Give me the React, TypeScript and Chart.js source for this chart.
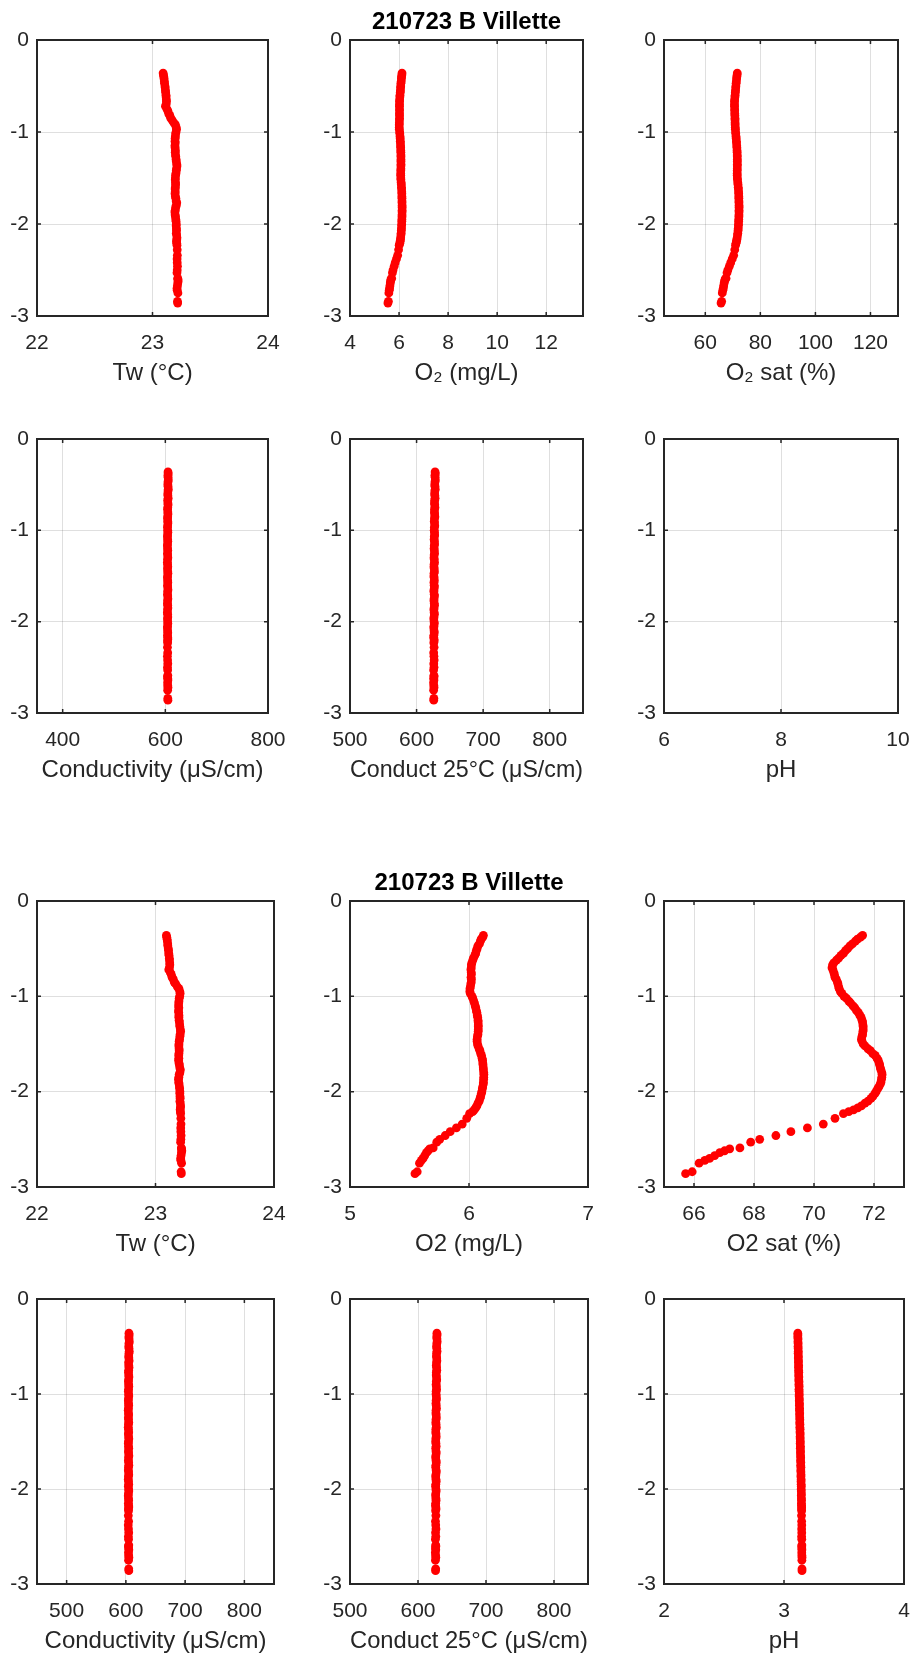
import { useEffect, useRef } from "react";
import { Chart, registerables } from "chart.js";

Chart.register(...registerables);

// ---------------- data (one profile, shared by all panels) ----------------
const depth = [
  -0.36, -0.38, -0.4, -0.42, -0.45, -0.47, -0.5, -0.52, -0.55, -0.57,
  -0.6, -0.62, -0.65, -0.67, -0.7, -0.72, -0.75, -0.77, -0.8, -0.82,
  -0.85, -0.87, -0.9, -0.92, -0.95, -0.97, -1.0, -1.02, -1.05, -1.07,
  -1.1, -1.12, -1.15, -1.17, -1.2, -1.22, -1.25, -1.27, -1.3, -1.32,
  -1.35, -1.37, -1.4, -1.42, -1.45, -1.47, -1.5, -1.52, -1.55, -1.57,
  -1.6, -1.62, -1.65, -1.67, -1.7, -1.72, -1.75, -1.77, -1.8, -1.82,
  -1.85, -1.87, -1.9, -1.92, -1.95, -1.97, -2.0, -2.02, -2.05, -2.07,
  -2.1, -2.12, -2.15, -2.17, -2.19, -2.21,
  -2.23, -2.28, -2.34, -2.38, -2.42, -2.46, -2.5, -2.53, -2.59, -2.6,
  -2.62, -2.64, -2.67, -2.7, -2.72, -2.75, -2.84, -2.86,
];

const tw = [
  23.092, 23.095, 23.098, 23.1, 23.103, 23.104, 23.108, 23.11, 23.112, 23.114,
  23.117, 23.118, 23.12, 23.121, 23.118, 23.112, 23.125, 23.133, 23.14, 23.15,
  23.158, 23.17, 23.185, 23.198, 23.205, 23.208, 23.204, 23.2, 23.198, 23.196,
  23.195, 23.197, 23.194, 23.196, 23.198, 23.197, 23.199, 23.202, 23.204, 23.206,
  23.21, 23.212, 23.208, 23.206, 23.203, 23.2, 23.198, 23.197, 23.199, 23.2,
  23.198, 23.196, 23.197, 23.195, 23.198, 23.202, 23.205, 23.21, 23.206, 23.2,
  23.197, 23.194, 23.196, 23.199, 23.202, 23.204, 23.206, 23.205, 23.207, 23.208,
  23.206, 23.209, 23.212, 23.21, 23.208, 23.21,
  23.212, 23.214, 23.215, 23.213, 23.214, 23.216, 23.214, 23.212, 23.218, 23.22,
  23.222, 23.219, 23.216, 23.212, 23.214, 23.22, 23.216, 23.218,
];

const o2 = [
  6.121, 6.115, 6.102, 6.096, 6.087, 6.075, 6.068, 6.062, 6.056, 6.049,
  6.037, 6.032, 6.024, 6.02, 6.019, 6.016, 6.019, 6.02, 6.017, 6.02,
  6.019, 6.015, 6.012, 6.008, 6.007, 6.011, 6.025, 6.032, 6.04, 6.046,
  6.052, 6.057, 6.062, 6.066, 6.07, 6.073, 6.076, 6.077, 6.078, 6.078,
  6.078, 6.077, 6.075, 6.071, 6.068, 6.068, 6.071, 6.076, 6.085, 6.092,
  6.098, 6.105, 6.11, 6.114, 6.116, 6.118, 6.12, 6.121, 6.124, 6.125,
  6.124, 6.123, 6.121, 6.12, 6.115, 6.112, 6.108, 6.104, 6.098, 6.093,
  6.085, 6.076, 6.066, 6.056, 6.044, 6.031,
  6.005, 5.981, 5.943, 5.894, 5.842, 5.8, 5.754, 5.729, 5.699, 5.67,
  5.656, 5.642, 5.628, 5.614, 5.6, 5.584, 5.565, 5.546,
];

const o2sat = [
  71.62, 71.55, 71.45, 71.38, 71.28, 71.2, 71.12, 71.05, 70.98, 70.9,
  70.82, 70.75, 70.66, 70.62, 70.6, 70.63, 70.66, 70.68, 70.7, 70.74,
  70.78, 70.8, 70.82, 70.84, 70.88, 70.93, 71.0, 71.08, 71.16, 71.22,
  71.3, 71.36, 71.42, 71.48, 71.53, 71.57, 71.6, 71.62, 71.63, 71.64,
  71.64, 71.63, 71.62, 71.6, 71.58, 71.6, 71.64, 71.7, 71.8, 71.88,
  71.96, 72.04, 72.1, 72.14, 72.17, 72.19, 72.21, 72.23, 72.26, 72.27,
  72.26, 72.25, 72.23, 72.21, 72.16, 72.12, 72.07, 72.03, 71.96, 71.9,
  71.8, 71.7, 71.58, 71.46, 71.32, 71.16,
  70.98, 70.7, 70.31, 69.78, 69.23, 68.73, 68.19, 67.89, 67.53, 67.19,
  67.02, 66.86, 66.69, 66.52, 66.36, 66.17, 65.94, 65.72,
];

const cond = [
  605.2, 605.6, 605.0, 605.4, 605.8, 605.1, 604.9, 605.3, 605.7, 605.2,
  604.8, 605.0, 605.5, 604.6, 604.9, 605.3, 604.7, 604.4, 604.8, 605.1,
  604.6, 604.3, 604.7, 605.0, 604.5, 604.2, 604.6, 604.9, 604.4, 604.1,
  604.5, 604.8, 604.3, 604.0, 604.4, 604.7, 604.2, 604.5, 604.9, 604.3,
  604.0, 604.4, 604.8, 604.2, 604.6, 605.0, 604.4, 604.1, 604.5, 604.8,
  604.3, 604.6, 605.1, 604.5, 604.2, 604.7, 605.0, 604.4, 604.1, 604.6,
  604.9, 604.3, 604.0, 604.5, 604.8, 604.2, 604.6, 604.9, 604.3, 604.0,
  604.4, 604.7, 604.2, 604.6, 604.9, 604.3,
  604.5, 604.1, 604.6, 604.0, 604.4, 604.8, 604.2, 604.5, 604.9, 604.3,
  604.6, 605.0, 604.4, 604.7, 605.1, 604.5, 604.8, 605.0,
];

const cond25 = [
  627.8, 628.1, 627.5, 627.9, 628.2, 627.6, 627.3, 627.7, 628.0, 627.4,
  627.1, 627.5, 627.8, 627.2, 626.9, 627.3, 627.6, 627.0, 626.8, 627.2,
  627.5, 626.9, 626.6, 627.0, 627.3, 626.7, 626.5, 626.9, 627.2, 626.6,
  626.4, 626.8, 627.1, 626.5, 626.3, 626.7, 627.0, 626.4, 626.2, 626.6,
  626.9, 626.3, 626.1, 626.5, 626.8, 626.2, 626.0, 626.4, 626.7, 626.1,
  626.4, 626.8, 626.2, 626.0, 626.5, 626.9, 626.3, 626.1, 626.6, 626.9,
  626.3, 626.0, 626.4, 626.8, 626.2, 625.9, 626.3, 626.7, 626.1, 625.9,
  626.3, 626.6, 626.0, 625.8, 626.2, 626.5,
  625.9, 626.3, 625.7, 626.1, 626.4, 625.8, 626.2, 625.6, 626.0, 626.3,
  625.7, 626.1, 625.5, 625.9, 626.2, 625.6, 626.0, 625.8,
];

const ph = [
  3.115, 3.116, 3.115, 3.117, 3.116, 3.118, 3.117, 3.118, 3.119, 3.118,
  3.12, 3.119, 3.121, 3.12, 3.122, 3.121, 3.122, 3.123, 3.122, 3.124,
  3.123, 3.125, 3.124, 3.126, 3.125, 3.126, 3.127, 3.126, 3.128, 3.127,
  3.129, 3.128, 3.13, 3.129, 3.131, 3.13, 3.131, 3.132, 3.131, 3.133,
  3.132, 3.134, 3.133, 3.135, 3.134, 3.135, 3.136, 3.135, 3.137, 3.136,
  3.138, 3.137, 3.138, 3.139, 3.138, 3.14, 3.139, 3.141, 3.14, 3.141,
  3.142, 3.141, 3.143, 3.142, 3.143, 3.144, 3.143, 3.144, 3.145, 3.144,
  3.145, 3.146, 3.145, 3.146, 3.147, 3.146,
  3.147, 3.146, 3.147, 3.148, 3.147, 3.148, 3.147, 3.148, 3.149, 3.148,
  3.148, 3.149, 3.148, 3.149, 3.15, 3.149, 3.15, 3.15,
];

// ---------------- ticks ----------------
const depthTicks = [0, -1, -2, -3];
const twTicks = [22, 23, 24];
const o2TicksTop = [4, 6, 8, 10, 12];
const o2satTicksTop = [60, 80, 100, 120];
const condTicksTop = [400, 600, 800];
const cond25Ticks = [500, 600, 700, 800];
const phTicksTop = [6, 8, 10];
const o2TicksBottom = [5, 6, 7];
const o2satTicksBottom = [66, 68, 70, 72];
const condTicksBottom = [500, 600, 700, 800];
const phTicksBottom = [2, 3, 4];

const TITLE = "210723 B Villette";

// ---------------- layout ----------------
const FONT = "'Liberation Sans', Arial, Helvetica, sans-serif";
const TEXT = "#262626";
const PAD_L = 60;
const PAD_T = 50;
const PAD_R = 40;
const PAD_B = 85;
const WY = 60;
const HX = 72;
const TICK_SIZE = 21;
const TICK_PAD_X = 15;
const LABEL_SIZE = 24;
const TITLE_SIZE = 24;
const TITLE_PAD_B = 3.5;
const TITLE_H = TITLE_SIZE * 1.2 + TITLE_PAD_B;

type Panel = {
  xs: number[];
  L: number; T: number; R: number; B: number;
  min: number; max: number; ticks: number[];
  label: string; title?: string;
};

const colsTop = [[37, 268], [350, 583], [664, 898]];
const colsBot = [[37, 274], [350, 588], [664, 904]];
const rows = [[40, 316], [439, 713], [901, 1187], [1299, 1584]];

function mk(xs: number[], r: number, c: number, min: number, max: number, ticks: number[], label: string, title?: string): Panel {
  const cols = r < 2 ? colsTop : colsBot;
  return { xs, L: cols[c][0], R: cols[c][1], T: rows[r][0], B: rows[r][1], min, max, ticks, label, title };
}

const panels: Panel[] = [
  mk(tw, 0, 0, 22, 24, twTicks, "Tw (°C)"),
  mk(o2, 0, 1, 4, 13.5, o2TicksTop, "O₂ (mg/L)", TITLE),
  mk(o2sat, 0, 2, 45, 130, o2satTicksTop, "O₂ sat (%)"),
  mk(cond, 1, 0, 350, 800, condTicksTop, "Conductivity (μS/cm)"),
  mk(cond25, 1, 1, 500, 850, cond25Ticks, "Conduct 25°C (μS/cm)"),
  mk(ph, 1, 2, 6, 10, phTicksTop, "pH"),
  mk(tw, 2, 0, 22, 24, twTicks, "Tw (°C)"),
  mk(o2, 2, 1, 5, 7, o2TicksBottom, "O2 (mg/L)", TITLE),
  mk(o2sat, 2, 2, 65, 73, o2satTicksBottom, "O2 sat (%)"),
  mk(cond, 3, 0, 450, 850, condTicksBottom, "Conductivity (μS/cm)"),
  mk(cond25, 3, 1, 500, 850, cond25Ticks, "Conduct 25°C (μS/cm)"),
  mk(ph, 3, 2, 2, 4, phTicksBottom, "pH"),
];

const boxPlugin = {
  id: "matlabBox",
  afterDatasetsDraw(chart: any) {
    const { ctx, chartArea: a, scales } = chart;
    const xs = scales.x;
    const ys = scales.y;
    const tl = 4;
    ctx.save();
    ctx.strokeStyle = TEXT;
    ctx.lineWidth = 1.5;
    ctx.beginPath();
    for (const t of xs.ticks) {
      const px = xs.getPixelForValue(t.value);
      ctx.moveTo(px, a.bottom); ctx.lineTo(px, a.bottom - tl);
      ctx.moveTo(px, a.top); ctx.lineTo(px, a.top + tl);
    }
    for (const t of ys.ticks) {
      const py = ys.getPixelForValue(t.value);
      ctx.moveTo(a.left, py); ctx.lineTo(a.left + tl, py);
      ctx.moveTo(a.right, py); ctx.lineTo(a.right - tl, py);
    }
    ctx.stroke();
    ctx.lineWidth = 2;
    ctx.strokeRect(a.left, a.top, a.right - a.left, a.bottom - a.top);
    ctx.restore();
  },
};

function PanelChart({ p }: { p: Panel }) {
  const ref = useRef<HTMLCanvasElement | null>(null);
  const w = p.R - p.L + PAD_L + PAD_R;
  const h = p.B - p.T + PAD_T + PAD_B;
  useEffect(() => {
    if (!ref.current) return;
    const pts = depth.map((d, i) => ({ x: p.xs[i], y: d }));
    const chart = new Chart(ref.current, {
      type: "scatter",
      data: {
        datasets: [
          {
            data: pts,
            backgroundColor: "#ff0000",
            borderColor: "#ff0000",
            borderWidth: 0,
            pointRadius: 4.4,
            pointHoverRadius: 4.4,
          },
        ],
      },
      options: {
        responsive: false,
        animation: false,
        events: [],
        layout: {
          padding: {
            left: PAD_L - WY,
            top: p.title ? PAD_T - TITLE_H : PAD_T,
            right: PAD_R,
            bottom: PAD_B - HX,
          },
        },
        plugins: {
          legend: { display: false },
          tooltip: { enabled: false },
          title: {
            display: !!p.title,
            text: p.title || "",
            fullSize: false,
            color: "#000",
            font: { family: FONT, size: TITLE_SIZE, weight: "bold", lineHeight: 1.2 },
            padding: { top: 0, bottom: TITLE_PAD_B },
          },
        },
        scales: {
          x: {
            type: "linear",
            min: p.min,
            max: p.max,
            afterBuildTicks: (s: any) => { s.ticks = p.ticks.map((v) => ({ value: v })); },
            afterFit: (s: any) => { s.height = HX; s.paddingLeft = 0; s.paddingRight = 0; s.paddingTop = 0; s.paddingBottom = 0; },
            grid: { color: "rgba(38,38,38,0.15)", lineWidth: 1, drawTicks: false },
            border: { display: false },
            ticks: {
              padding: TICK_PAD_X,
              autoSkip: false,
              maxRotation: 0,
              color: TEXT,
              font: { family: FONT, size: TICK_SIZE, lineHeight: 1.2 },
              callback: (v: any) => String(v),
            },
            title: {
              display: true,
              text: p.label,
              color: TEXT,
              font: { family: FONT, size: LABEL_SIZE, lineHeight: 1.2 },
              padding: 0,
            },
          },
          y: {
            type: "linear",
            min: -3,
            max: 0,
            afterBuildTicks: (s: any) => { s.ticks = depthTicks.map((v) => ({ value: v })); },
            afterFit: (s: any) => { s.width = WY; s.paddingTop = 0; s.paddingBottom = 0; s.paddingLeft = 0; s.paddingRight = 0; },
            grid: { color: "rgba(38,38,38,0.15)", lineWidth: 1, drawTicks: false },
            border: { display: false },
            ticks: {
              padding: 8,
              autoSkip: false,
              color: TEXT,
              font: { family: FONT, size: TICK_SIZE, lineHeight: 1.2 },
              callback: (v: any) => String(v),
            },
          },
        },
      } as any,
      plugins: [boxPlugin],
    });
    return () => chart.destroy();
  }, [p]);
  return (
    <canvas
      ref={ref}
      width={w}
      height={h}
      style={{ position: "absolute", left: p.L - PAD_L, top: p.T - PAD_T, width: w, height: h }}
    />
  );
}

export default function App() {
  return (
    <div
      style={{
        position: "absolute",
        left: 0,
        top: 0,
        width: 914,
        height: 1657,
        background: "#ffffff",
        overflow: "hidden",
      }}
    >
      {panels.map((p, i) => (
        <PanelChart key={i} p={p} />
      ))}
    </div>
  );
}
